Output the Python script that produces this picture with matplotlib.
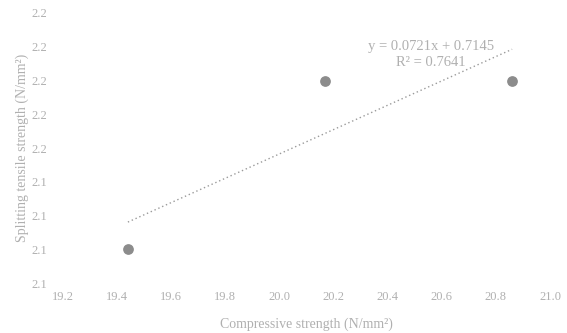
import numpy as np
import matplotlib.pyplot as plt

# compressive vs splitting tensile strength
compressive = [19.44, 20.17, 20.86]
tensile = [2.10, 2.20, 2.20]
x_ticks = [19.2, 19.4, 19.6, 19.8, 20.0, 20.2, 20.4, 20.6, 20.8, 21.0]
y_ticks = [2.08, 2.10, 2.12, 2.14, 2.16, 2.18, 2.20, 2.22, 2.24]
slope, intercept = 0.0721, 0.7145
r2 = 0.7641

plt.rcParams['font.family'] = ['Liberation Serif', 'DejaVu Serif']
txt = '#b0b0b0'

fig = plt.figure(figsize=(5.67, 3.33), dpi=100)
ax = fig.add_axes([0.111, 0.150, 0.859, 0.811])

ax.scatter(compressive, tensile, s=45, color='#8c8c8c', zorder=3)

# linear trendline
tx = np.array([compressive[0], compressive[-1]])
ax.plot(tx, slope * tx + intercept, linestyle=(0, (1, 2)), color='#9a9a9a', linewidth=1)

ax.text(20.56, 2.2155, 'y = %.4fx + %.4f\nR² = %.4f' % (slope, intercept, r2),
        ha='center', va='center', fontsize=10.5, color=txt, linespacing=1.3)

ax.set_xlim(19.2, 21.0)
ax.set_ylim(2.08, 2.24)
ax.set_xticks(x_ticks)
ax.set_yticks(y_ticks)
ax.set_xticklabels(['%.1f' % v for v in x_ticks])
ax.set_yticklabels(['%.1f' % v for v in y_ticks])
ax.tick_params(length=0, labelsize=9, colors=txt)
ax.tick_params(axis='y', pad=11)
ax.tick_params(axis='x', pad=6)
for s in ax.spines.values():
    s.set_visible(False)

ax.set_xlabel('Compressive strength (N/mm²)', fontsize=10, color=txt, labelpad=10)
ax.set_ylabel('Splitting tensile strength (N/mm²)', fontsize=10, color=txt, labelpad=2)

fig.savefig('out.png', dpi=100)
